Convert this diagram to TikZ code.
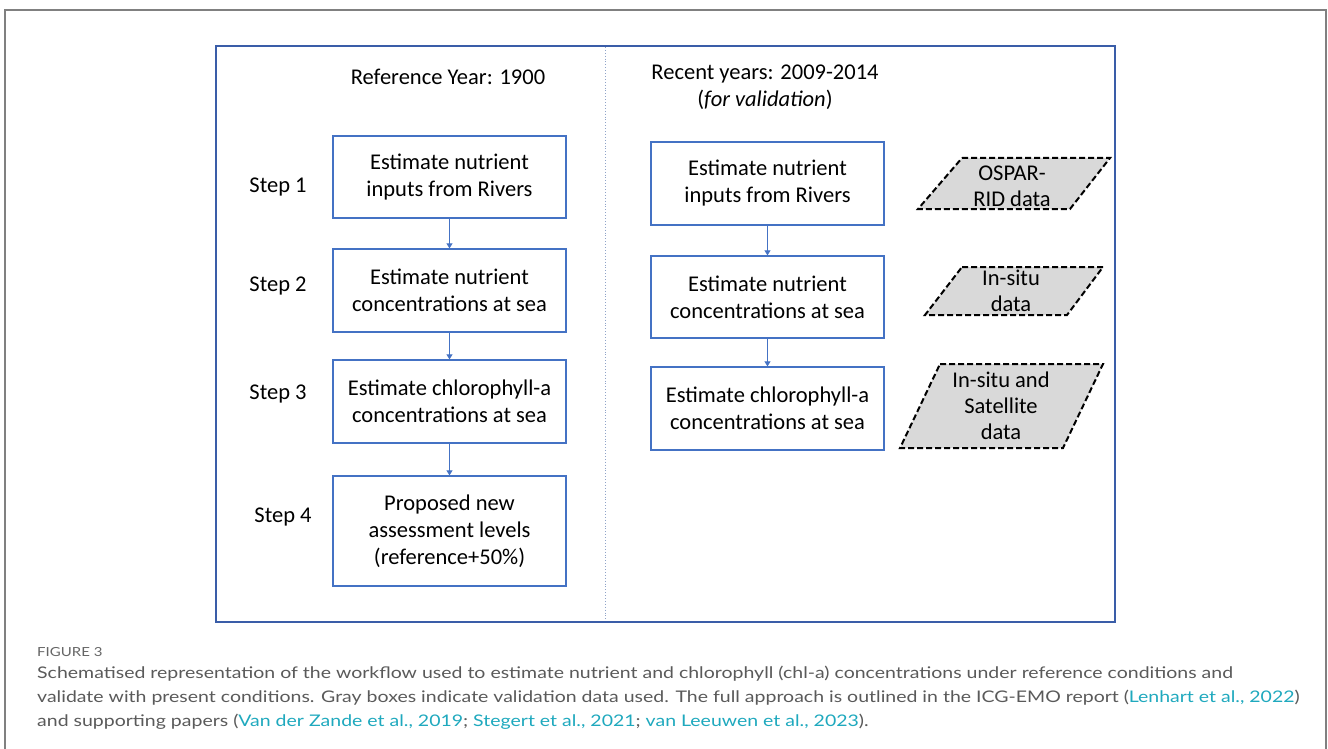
\documentclass[tikz,border=0pt]{standalone}
\usepackage{fontspec}
\setmainfont{Carlito}
\newfontfamily\capfont{Lato}
\usetikzlibrary{arrows.meta}
\definecolor{boxblue}{HTML}{4472C4}
\definecolor{frameblue}{HTML}{3A5DA8}
\definecolor{framegray}{HTML}{808080}
\definecolor{capgray}{HTML}{5A5A5A}
\definecolor{figgray}{HTML}{666666}
\definecolor{linkteal}{HTML}{1FA9BE}
\definecolor{datagray}{HTML}{D9D9D9}
\definecolor{divcolor}{HTML}{8FA3C8}
\newcommand{\capline}[1]{\scalebox{1.218}[1]{#1}}
\begin{document}
\begin{tikzpicture}[x=1pt,y=-1pt,
  mainfont/.style={font=\fontsize{22.5}{27}\selectfont},
  stepbox/.style={draw=boxblue, line width=1.3pt, minimum width=233pt, inner sep=0pt, align=center, mainfont},
  steplabel/.style={mainfont, inner sep=0pt},
  flowarrow/.style={draw=boxblue, line width=0.8pt, -{Triangle[width=6pt,length=5pt]}},
  databox/.style={fill=datagray, draw=black, line width=2pt, dash pattern=on 6pt off 3pt},
  datatext/.style={align=center, inner sep=0pt, font=\fontsize{22.5}{26}\selectfont},
  captext/.style={anchor=base west, inner sep=0pt, text=capgray, font=\capfont\fontsize{16}{24}\selectfont},
  link/.style={text=linkteal}
]
\useasboundingbox (0,0) rectangle (1328,749);
\fill[white] (0,0) rectangle (1328,749);
% outer gray frame
\draw[framegray, line width=1.6pt] (5,760) -- (5,10) -- (1326,10) -- (1326,760);
% inner blue frame
\draw[frameblue, line width=1.3pt] (216,46) rectangle (1115,622);
% divider
\draw[divcolor, line width=0.9pt, dotted] (605,47) -- (605,621);

% titles
\node[mainfont, inner sep=0pt] (tleft) at (448,77) {Reference Year: 1900};
\node[mainfont, inner sep=0pt, align=center] (tright) at (765,87) {Recent years: 2009-2014\\(\textit{for validation})};

% left column
\node[stepbox, minimum height=82pt] (L1) at (449.5,177) {Estimate nutrient\\inputs from Rivers};
\node[stepbox, minimum height=83pt] (L2) at (449.5,290.5) {Estimate nutrient\\concentrations at sea};
\node[stepbox, minimum height=83pt] (L3) at (449.5,401.5) {Estimate chlorophyll-a\\concentrations at sea};
\node[stepbox, minimum height=110pt] (L4) at (449.5,531) {Proposed new\\assessment levels\\(reference+50\%)};

\node[steplabel] (s1) at (278,187) {Step 1};
\node[steplabel] (s2) at (278,286) {Step 2};
\node[steplabel] (s3) at (278,394) {Step 3};
\node[steplabel] (s4) at (283,517) {Step 4};

\draw[flowarrow] (L1.south) -- (L2.north);
\draw[flowarrow] (L2.south) -- (L3.north);
\draw[flowarrow] (L3.south) -- (L4.north);

% right column
\node[stepbox, minimum height=83pt] (R1) at (767.5,183.5) {Estimate nutrient\\inputs from Rivers};
\node[stepbox, minimum height=82pt] (R2) at (767.5,297) {Estimate nutrient\\concentrations at sea};
\node[stepbox, minimum height=83pt] (R3) at (767.5,408.5) {Estimate chlorophyll-a\\concentrations at sea};

\draw[flowarrow] (R1.south) -- (R2.north);
\draw[flowarrow] (R2.south) -- (R3.north);

% data parallelograms
\draw[databox] (962,158) -- (1110,158) -- (1070,209) -- (918,209) -- cycle;
\node[datatext] (d1) at (1012,186) {OSPAR-\\RID data};
\draw[databox] (962,267) -- (1103,267) -- (1067,315) -- (925,315) -- cycle;
\node[datatext] (d2) at (1011,291) {In-situ\\data};
\draw[databox] (940,364) -- (1103,364) -- (1063,448) -- (900,448) -- cycle;
\node[datatext] (d3) at (1001,406) {In-situ and\\Satellite\\data};

% caption
\node[captext, text=figgray, font=\capfont\fontsize{12.5}{18}\selectfont] (fig) at (37,656) {\scalebox{1.2}[1]{FIGURE 3}};
\node[captext] (c1) at (37,678) {\capline{Schematised representation of the workflow used to estimate nutrient and chlorophyll (chl-a) concentrations under reference conditions and}};
\node[captext] (c2) at (37,702) {\capline{validate with present conditions. Gray boxes indicate validation data used. The full approach is outlined in the ICG-EMO report ({\color{linkteal}Lenhart et al., 2022})}};
\node[captext] (c3) at (37,726) {\capline{and supporting papers ({\color{linkteal}Van der Zande et al., 2019}; {\color{linkteal}Stegert et al., 2021}; {\color{linkteal}van Leeuwen et al., 2023}).}};
\end{tikzpicture}
\end{document}
